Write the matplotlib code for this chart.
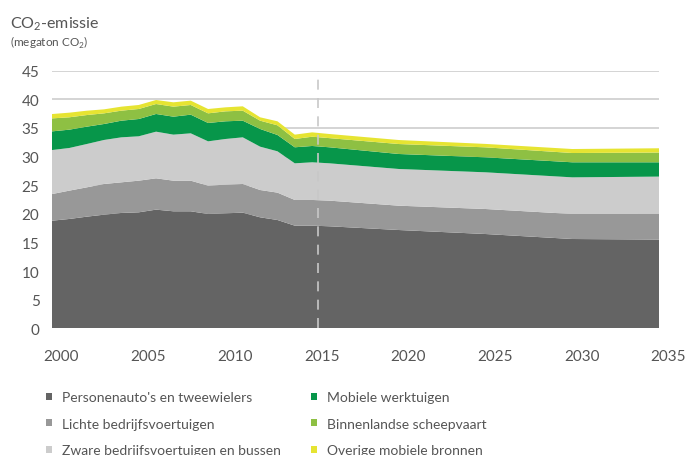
import numpy as np
import matplotlib
matplotlib.use("Agg")
import matplotlib.pyplot as plt
import matplotlib.transforms as mtransforms
from matplotlib.patches import Patch

plt.rcParams['font.family'] = ['Lato', 'DejaVu Sans']
plt.rcParams['mathtext.fontset'] = 'custom'
plt.rcParams['mathtext.rm'] = 'Lato'

# CO2-emissie per bron (megaton), realisatie t/m 2016 en raming daarna
jaren = [2000, 2001, 2002, 2003, 2004, 2005, 2006, 2007, 2008, 2009, 2010,
         2011, 2012, 2013, 2014, 2015, 2016, 2020, 2025, 2030, 2035]
personenauto = [18.8, 19.1, 19.5, 19.85, 20.15, 20.26, 20.73, 20.44, 20.44, 19.97, 20.09,
                20.2, 19.39, 18.92, 17.93, 17.93, 17.82, 17.17, 16.47, 15.6, 15.5]
lichte_bedrijf = [4.65, 4.95, 5.12, 5.36, 5.35, 5.53, 5.47, 5.35, 5.35, 4.95, 5.0,
                  5.01, 4.77, 4.78, 4.49, 4.49, 4.48, 4.25, 4.37, 4.37, 4.5]
zware_bedrijf = [7.69, 7.45, 7.57, 7.69, 7.86, 7.75, 8.15, 8.04, 8.27, 7.74, 7.98,
                 8.15, 7.57, 7.22, 6.4, 6.58, 6.52, 6.41, 6.41, 6.4, 6.5]
werktuigen = [3.26, 3.2, 3.03, 2.79, 2.91, 3.02, 3.09, 3.14, 3.26, 3.21, 3.09,
              2.91, 3.09, 2.85, 2.8, 2.85, 2.8, 2.62, 2.62, 2.63, 2.5]
scheepvaart = [2.27, 2.16, 2.03, 1.86, 1.75, 1.75, 1.74, 1.75, 1.69, 1.68, 1.74,
               1.75, 1.45, 1.69, 1.45, 1.62, 1.6, 1.74, 1.74, 1.62, 1.7]
overig = [0.76, 0.81, 0.76, 0.7, 0.7, 0.7, 0.7, 0.76, 0.76, 0.76, 0.7,
          0.76, 0.59, 0.7, 0.76, 0.76, 0.72, 0.7, 0.6, 0.7, 0.75]

labels = ["Personenauto's en tweewielers", "Lichte bedrijfsvoertuigen",
          "Zware bedrijfsvoertuigen en bussen", "Mobiele werktuigen",
          "Binnenlandse scheepvaart", "Overige mobiele bronnen"]
kleuren = ['#646464', '#989898', '#cccccc', '#07964a', '#8ec043', '#e6e432']
tekst = '#555555'

fig = plt.figure(figsize=(6.86, 4.56), dpi=100)
ax = fig.add_axes([52 / 686, 1 - 329.3 / 456, 607 / 686, 257.6 / 456])

ax.stackplot(jaren, personenauto, lichte_bedrijf, zware_bedrijf, werktuigen,
             scheepvaart, overig, colors=kleuren, linewidth=0, zorder=2)

ax.set_xlim(2000, 2035)
ax.set_ylim(0, 45)
ax.set_yticks(np.arange(0, 46, 5))
ax.set_xticks(np.arange(2000, 2036, 5))
ax.grid(axis='y', color='#d4d4d4', linewidth=1.4, zorder=0)
ax.set_axisbelow(True)
for s in ax.spines.values():
    s.set_visible(False)
ax.tick_params(length=0, colors=tekst, labelsize=11)
ax.tick_params(axis='y', pad=9)
ax.tick_params(axis='x', pad=15)

# jaartallen iets naar rechts
verschuif = mtransforms.ScaledTranslation(0.095, 0, fig.dpi_scale_trans)
for lab in ax.get_xticklabels():
    lab.set_transform(lab.get_transform() + verschuif)

# grens realisatie / raming
lijn_trans = ax.get_xaxis_transform() + mtransforms.ScaledTranslation(0.06, 0, fig.dpi_scale_trans)
ax.plot([2015, 2015], [0, 1], transform=lijn_trans, color='#c8c8c8',
        linewidth=1.2, dashes=(6, 5), zorder=3, clip_on=False)

fig.text(10 / 686, 1 - 28 / 456, r'CO$_\mathregular{2}$-emissie', fontsize=11.5,
         color=tekst, ha='left', va='baseline')
fig.text(10 / 686, 1 - 47 / 456, r'(megaton CO$_\mathregular{2}$)', fontsize=8.5,
         color=tekst, ha='left', va='baseline')

handles = [Patch(facecolor=c, edgecolor='none') for c in kleuren]
fig.legend(handles, labels, ncol=2, loc='upper left',
           bbox_to_anchor=(46 / 686, 1 - 392 / 456), frameon=False,
           fontsize=10, labelcolor=tekst, handlelength=0.4, handleheight=0.4,
           handletextpad=0.75, columnspacing=2.2, labelspacing=1.05,
           borderpad=0, borderaxespad=0)

fig.savefig('out.png', dpi=100)
